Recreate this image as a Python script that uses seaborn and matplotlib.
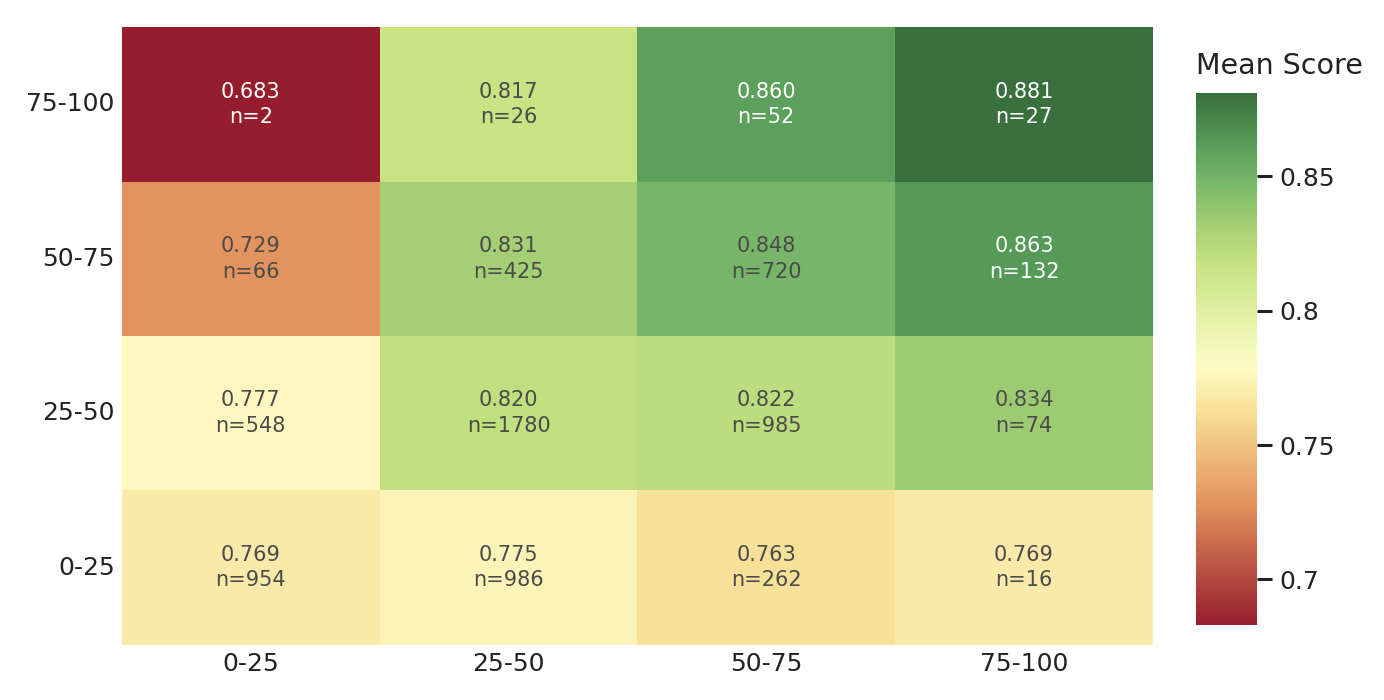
import numpy as np
import pandas as pd
import seaborn as sns
import matplotlib.pyplot as plt
from matplotlib.colors import LinearSegmentedColormap

# --- data ---
x_bins = ["0-25", "25-50", "50-75", "75-100"]
y_bins = ["75-100", "50-75", "25-50", "0-25"]  # top to bottom

mean_score = [
    [0.683, 0.817, 0.860, 0.881],
    [0.729, 0.831, 0.848, 0.863],
    [0.777, 0.820, 0.822, 0.834],
    [0.769, 0.775, 0.763, 0.769],
]
counts = [
    [2, 26, 52, 27],
    [66, 425, 720, 132],
    [548, 1780, 985, 74],
    [954, 986, 262, 16],
]

scores_df = pd.DataFrame(mean_score, index=y_bins, columns=x_bins)
labels = np.array([[f"{s:.3f}\nn={n}" for s, n in zip(rs, rc)]
                   for rs, rc in zip(mean_score, counts)])

# muted red-yellow-green scale like the original
cmap = LinearSegmentedColormap.from_list("rdylgn_soft", [
    (0.00, "#961d2e"),
    (0.23, "#e3935e"),
    (0.40, "#f7df95"),
    (0.48, "#fef9c2"),
    (0.52, "#f4f8bc"),
    (0.68, "#c7e381"),
    (0.75, "#a5cf74"),
    (0.83, "#79b869"),
    (0.91, "#559b57"),
    (1.00, "#3a6f3e"),
])

fig = plt.figure(figsize=(13.84, 7.0), dpi=100)
ax = fig.add_axes([0.088, 0.079, 0.745, 0.882])
cax = fig.add_axes([0.864, 0.107, 0.044, 0.760])

sns.heatmap(
    scores_df, ax=ax, cbar_ax=cax, cmap=cmap,
    vmin=scores_df.values.min(), vmax=scores_df.values.max(),
    annot=labels, fmt="",
    annot_kws={"fontsize": 15, "linespacing": 1.35},
)

# text colour: white on the darkest cells, grey elsewhere
vmin, vmax = scores_df.values.min(), scores_df.values.max()
for txt, val in zip(ax.texts, np.array(mean_score).ravel()):
    norm = (val - vmin) / (vmax - vmin)
    txt.set_color("white" if (norm < 0.1 or norm > 0.85) else "#4a4a4a")

ax.tick_params(axis="both", length=0, labelsize=18, colors="#222222", pad=5)
ax.set_yticklabels(y_bins, rotation=0)
ax.set_xticklabels(x_bins, rotation=0)
ax.set_xlabel("")
ax.set_ylabel("")

cbar = ax.collections[0].colorbar
cbar.outline.set_visible(False)
cbar.set_ticks([0.7, 0.75, 0.8, 0.85])
cbar.set_ticklabels(["0.7", "0.75", "0.8", "0.85"])
cax.tick_params(axis="y", length=11, width=2.2, labelsize=18, colors="#222222", pad=5)

fig.text(0.864, 1 - 66 / 700, "Mean Score", fontsize=20.5, color="#222222",
         ha="left", va="center")

fig.savefig("out.png", dpi=100)
